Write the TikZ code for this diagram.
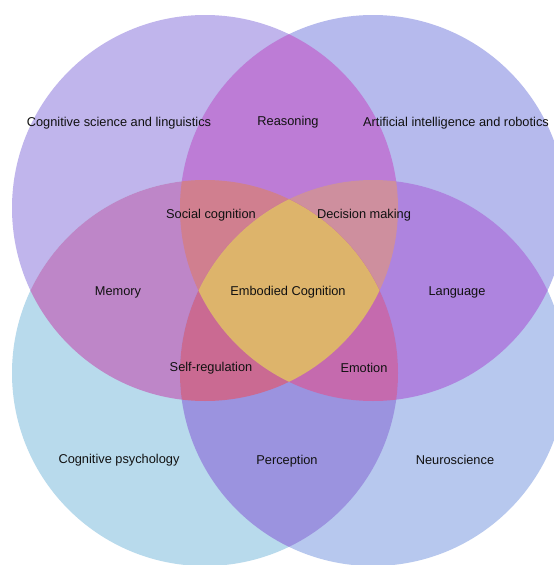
\documentclass[tikz,border=0pt]{standalone}
\usepackage{fontspec}
\setmainfont{Liberation Sans}
\definecolor{cTL}{HTML}{C0B5EC}
\definecolor{cTR}{HTML}{B6BAED}
\definecolor{cBL}{HTML}{B8DAEC}
\definecolor{cBR}{HTML}{B7C8EE}
\definecolor{cTLTR}{HTML}{BD7CD6}
\definecolor{cTLBL}{HTML}{BE86C8}
\definecolor{cTRBR}{HTML}{AE84DF}
\definecolor{cBLBR}{HTML}{9B93DF}
\definecolor{cTLTRBL}{HTML}{D07F8F}
\definecolor{cTLTRBR}{HTML}{CE8F9E}
\definecolor{cTLBLBR}{HTML}{CA6A92}
\definecolor{cTRBLBR}{HTML}{C56AAE}
\definecolor{cAll}{HTML}{DDB46B}
\definecolor{txt}{HTML}{111111}
\tikzset{
  lbl/.style={font=\fontsize{12.8}{14}\selectfont, text=txt, inner sep=0pt}
}
\newcommand{\cTLp}{(205,208) circle (193)}
\newcommand{\cTRp}{(373,208) circle (193)}
\newcommand{\cBLp}{(205,373) circle (193)}
\newcommand{\cBRp}{(373,373) circle (193)}
\begin{document}
\begin{tikzpicture}[x=1pt,y=-1pt]
\useasboundingbox (0,0) rectangle (554,565);
\fill[white] (0,0) rectangle (554,565);
\begin{scope}
\clip (0,0) rectangle (554,565);
% single circles
\fill[cTL] \cTLp;
\fill[cTR] \cTRp;
\fill[cBL] \cBLp;
\fill[cBR] \cBRp;
% pairs
\begin{scope}\clip \cTLp; \fill[cTLTR] \cTRp;\end{scope}
\begin{scope}\clip \cTLp; \fill[cTLBL] \cBLp;\end{scope}
\begin{scope}\clip \cTRp; \fill[cTRBR] \cBRp;\end{scope}
\begin{scope}\clip \cBLp; \fill[cBLBR] \cBRp;\end{scope}
% triples
\begin{scope}\clip \cTLp; \clip \cTRp; \fill[cTLTRBL] \cBLp;\end{scope}
\begin{scope}\clip \cTLp; \clip \cTRp; \fill[cTLTRBR] \cBRp;\end{scope}
\begin{scope}\clip \cTLp; \clip \cBLp; \fill[cTLBLBR] \cBRp;\end{scope}
\begin{scope}\clip \cTRp; \clip \cBLp; \fill[cTRBLBR] \cBRp;\end{scope}
% all four
\begin{scope}\clip \cTLp; \clip \cTRp; \clip \cBLp; \fill[cAll] \cBRp;\end{scope}
\end{scope}
% labels
\node[lbl] (csl) at (119,123) {Cognitive science and linguistics};
\node[lbl] (rea) at (288,122) {Reasoning};
\node[lbl] (air) at (456,123) {Artificial intelligence and robotics};
\node[lbl] (soc) at (211,215) {Social cognition};
\node[lbl] (dec) at (364,215) {Decision making};
\node[lbl] (mem) at (118,292) {Memory};
\node[lbl] (emb) at (288,292) {Embodied Cognition};
\node[lbl] (lan) at (457,292) {Language};
\node[lbl] (sel) at (211,368) {Self-regulation};
\node[lbl] (emo) at (364,368) {Emotion};
\node[lbl] (cps) at (119,460) {Cognitive psychology};
\node[lbl] (per) at (287,461) {Perception};
\node[lbl] (neu) at (455,460) {Neuroscience};
\end{tikzpicture}
\end{document}
